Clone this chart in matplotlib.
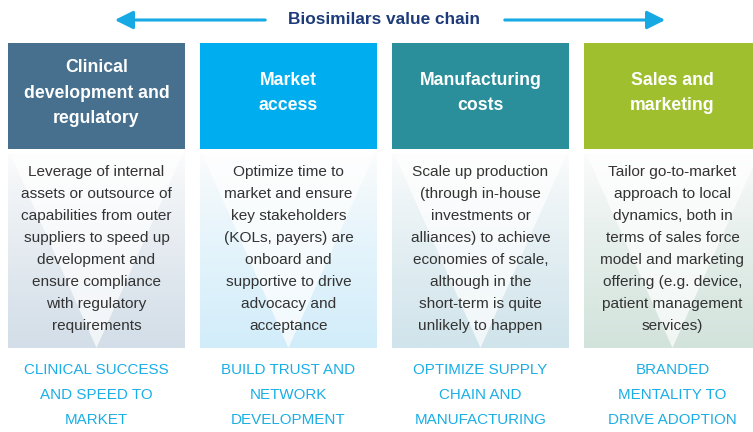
import matplotlib
matplotlib.use("Agg")
import matplotlib.pyplot as plt
import numpy as np
from matplotlib.patches import Rectangle, Polygon, FancyArrowPatch

title = "Biosimilars value chain"
headers = ["Clinical\ndevelopment and\nregulatory", "Market\naccess",
           "Manufacturing\ncosts", "Sales and\nmarketing"]
bodies = [
    "Leverage of internal\nassets or outsource of\ncapabilities from outer\nsuppliers to speed up\ndevelopment and\nensure compliance\nwith regulatory\nrequirements",
    "Optimize time to\nmarket and ensure\nkey stakeholders\n(KOLs, payers) are\nonboard and\nsupportive to drive\nadvocacy and\nacceptance",
    "Scale up production\n(through in-house\ninvestments or\nalliances) to achieve\neconomies of scale,\nalthough in the\nshort-term is quite\nunlikely to happen",
    "Tailor go-to-market\napproach to local\ndynamics, both in\nterms of sales force\nmodel and marketing\noffering (e.g. device,\npatient management\nservices)",
]
footers = ["CLINICAL SUCCESS\nAND SPEED TO\nMARKET", "BUILD TRUST AND\nNETWORK\nDEVELOPMENT",
           "OPTIMIZE SUPPLY\nCHAIN AND\nMANUFACTURING", "BRANDED\nMENTALITY TO\nDRIVE ADOPTION"]
header_colors = ["#46708e", "#00aeef", "#2a8f9b", "#a0bf2f"]
panel_colors = ["#d3dee8", "#d2edfa", "#d0e4eb", "#d2e3dc"]

font = "Liberation Sans"

W, H = 753, 432
fig = plt.figure(figsize=(W / 100, H / 100), dpi=100)
ax = fig.add_axes([0, 0, 1, 1])

col_left = [8, 200, 392, 584]
col_w = 177
head_top, head_bot = 43, 149
body_top, body_bot = 153, 348

for i in range(4):
    x0 = col_left[i]
    x1 = min(x0 + col_w, W)
    xc = x0 + col_w / 2
    ax.add_patch(Rectangle((x0, head_top), x1 - x0, head_bot - head_top,
                           facecolor=header_colors[i], edgecolor="none"))
    ax.text(xc, 93, headers[i], ha="center", va="center",
            color="white", fontsize=12.7, fontweight="bold", family=font,
            linespacing=1.69)
    # gradient panel
    rgb = np.array(matplotlib.colors.to_rgb(panel_colors[i]))
    t = np.linspace(0, 1, 100)[:, None]
    t = t ** 0.8
    grad = (1 - t)[..., None] * np.ones(3) * 0.99 + t[..., None] * rgb
    grad = np.repeat(grad, 2, axis=1)
    ax.imshow(grad, extent=(x0, x1, body_bot, body_top), aspect="auto",
              interpolation="bilinear", zorder=1)
    # white V
    ax.add_patch(Polygon([(x0 + 2, body_top), (x0 + col_w - 2, body_top), (xc, body_bot)],
                         closed=True, facecolor="white", edgecolor="none",
                         alpha=0.7, zorder=2))
    ax.text(xc, 249, bodies[i], ha="center", va="center",
            color="#333333", fontsize=11.1, family=font, linespacing=1.73, zorder=3)
    ax.text(xc, 395, footers[i], ha="center", va="center", color="#1aaee6",
            fontsize=10.9, family=font, linespacing=1.97, zorder=3)

ax.set_xlim(0, W)
ax.set_ylim(H, 0)
ax.axis("off")

# title and arrows
ax.text(384, 20, title, ha="center", va="center", color="#1d3b7a",
        fontsize=12.4, fontweight="bold", family=font)
arrow_col = "#16a9e3"
ax.add_patch(FancyArrowPatch((268, 20), (112, 20), arrowstyle="-|>,head_length=11,head_width=5.5",
                             color=arrow_col, lw=2.2, mutation_scale=1))
ax.add_patch(FancyArrowPatch((502, 20), (668, 20), arrowstyle="-|>,head_length=11,head_width=5.5",
                             color=arrow_col, lw=2.2, mutation_scale=1))

fig.savefig("out.png", dpi=100)
